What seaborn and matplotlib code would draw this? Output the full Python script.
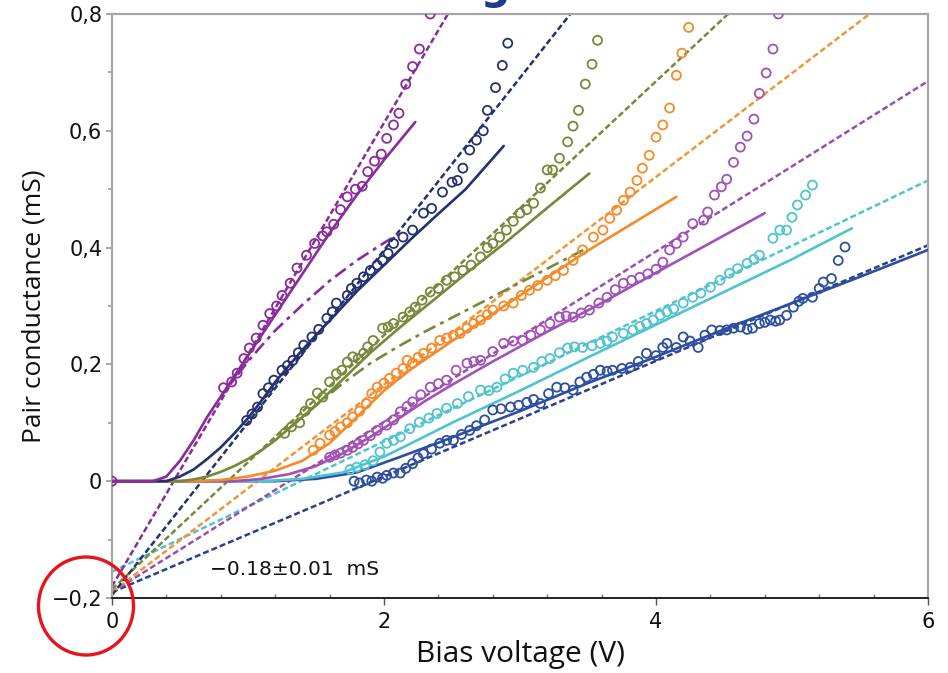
import matplotlib
matplotlib.use("Agg")
import matplotlib.pyplot as plt
from matplotlib.patches import Ellipse
from matplotlib.ticker import MultipleLocator
import pandas as pd
import seaborn as sns

# ---------------- data ----------------
x_ticks = [0, 2, 4, 6]
x_tick_labels = ["0", "2", "4", "6"]
y_ticks = [-0.2, 0.0, 0.2, 0.4, 0.6, 0.8]
y_tick_labels = ["\u22120,2", "0", "0,2", "0,4", "0,6", "0,8"]

# purple
purple_pts_v = [0.0, 0.82, 0.88, 0.92, 0.97, 1.01, 1.06, 1.11, 1.16, 1.21, 1.25, 1.31, 1.36, 1.43,
                1.49, 1.55, 1.58, 1.63, 1.68, 1.73, 1.79, 1.84, 1.88, 1.93, 1.98, 2.02, 2.07,
                2.11, 2.16, 2.21, 2.26, 2.34]
purple_pts_g = [0.0, 0.16, 0.17, 0.185, 0.21, 0.228, 0.245, 0.267, 0.287, 0.30, 0.318, 0.339, 0.365,
                0.387, 0.407, 0.42, 0.427, 0.44, 0.465, 0.487, 0.50, 0.505, 0.53, 0.548, 0.56,
                0.587, 0.61, 0.63, 0.68, 0.71, 0.74, 0.80]
purple_fit_v = [0.0, 0.3, 0.4, 0.5, 0.6, 0.7, 0.8, 0.9, 1.0, 1.2, 1.4, 1.6, 1.8, 2.0, 2.23]
purple_fit_g = [0.0, 0.0, 0.008, 0.035, 0.07, 0.11, 0.145, 0.18, 0.215, 0.285, 0.355, 0.425,
                0.49, 0.55, 0.615]
purple_alt_v = [0.8, 0.9, 1.0, 1.1, 1.2, 1.4, 1.6, 1.8, 2.0, 2.12]
purple_alt_g = [0.145, 0.175, 0.205, 0.232, 0.258, 0.302, 0.343, 0.378, 0.408, 0.425]
purple_lin_v = [0.0, 2.47]
purple_lin_g = [-0.18, 0.80]

# navy
navy_pts_v = [0.99, 1.03, 1.07, 1.11, 1.15, 1.19, 1.25, 1.29, 1.33, 1.37, 1.41, 1.47, 1.52, 1.58,
              1.62, 1.65, 1.73, 1.76, 1.80, 1.85, 1.90, 1.95, 1.99, 2.03, 2.07, 2.14, 2.21,
              2.29, 2.35, 2.43, 2.50, 2.54, 2.58, 2.63, 2.68, 2.73, 2.76, 2.82, 2.87, 2.91, 2.97]
navy_pts_g = [0.104, 0.115, 0.127, 0.15, 0.16, 0.173, 0.19, 0.198, 0.207, 0.22, 0.233, 0.247, 0.26,
              0.279, 0.29, 0.305, 0.318, 0.33, 0.339, 0.35, 0.361, 0.37, 0.378, 0.39, 0.407,
              0.418, 0.43, 0.459, 0.467, 0.495, 0.512, 0.515, 0.536, 0.567, 0.584, 0.60, 0.635,
              0.674, 0.712, 0.75, 0.812]
navy_fit_v = [0.0, 0.4, 0.5, 0.6, 0.7, 0.8, 0.9, 1.0, 1.1, 1.2, 1.4, 1.6, 1.8, 2.0, 2.2, 2.4, 2.6, 2.88]
navy_fit_g = [0.0, 0.0, 0.008, 0.02, 0.038, 0.058, 0.082, 0.108, 0.138, 0.17, 0.225, 0.275, 0.325,
              0.37, 0.415, 0.458, 0.50, 0.574]
navy_lin_v = [0.0, 3.37]
navy_lin_g = [-0.195, 0.80]

# olive
olive_pts_v = [1.27, 1.32, 1.38, 1.42, 1.46, 1.51, 1.55, 1.60, 1.65, 1.69, 1.73, 1.77, 1.81, 1.85,
               1.88, 1.92, 1.99, 2.03, 2.07, 2.14, 2.19, 2.23, 2.28, 2.34, 2.40, 2.46, 2.52, 2.58,
               2.64, 2.71, 2.76, 2.80, 2.85, 2.90, 2.95, 3.00, 3.05, 3.10, 3.15, 3.20, 3.24, 3.29,
               3.35, 3.39, 3.43, 3.48, 3.53, 3.57]
olive_pts_g = [0.082, 0.093, 0.10, 0.12, 0.133, 0.151, 0.144, 0.17, 0.184, 0.19, 0.204, 0.213, 0.21,
               0.219, 0.23, 0.241, 0.262, 0.264, 0.27, 0.281, 0.29, 0.298, 0.31, 0.324, 0.33,
               0.344, 0.35, 0.361, 0.37, 0.384, 0.40, 0.407, 0.418, 0.43, 0.445, 0.459, 0.465,
               0.476, 0.502, 0.533, 0.533, 0.553, 0.581, 0.608, 0.635, 0.68, 0.714, 0.755]
olive_fit_v = [0.0, 0.5, 0.6, 0.7, 0.8, 0.9, 1.0, 1.1, 1.2, 1.3, 1.4, 1.5, 1.7, 1.9, 2.1, 2.3, 2.6,
               2.9, 3.2, 3.51]
olive_fit_g = [0.0, 0.0, 0.003, 0.008, 0.016, 0.026, 0.038, 0.053, 0.07, 0.09, 0.11, 0.13, 0.175,
               0.22, 0.26, 0.298, 0.355, 0.41, 0.468, 0.527]
olive_alt_v = [1.3, 1.5, 1.7, 1.9, 2.1, 2.3, 2.5, 2.8, 3.1, 3.5]
olive_alt_g = [0.09, 0.13, 0.168, 0.202, 0.23, 0.256, 0.28, 0.316, 0.352, 0.40]
olive_lin_v = [0.0, 4.53]
olive_lin_g = [-0.185, 0.80]

# orange
orange_pts_v = [1.48, 1.53, 1.60, 1.64, 1.68, 1.73, 1.77, 1.82, 1.87, 1.91, 1.95, 2.00, 2.04, 2.09,
                2.14, 2.17, 2.21, 2.25, 2.29, 2.35, 2.41, 2.46, 2.51, 2.56, 2.61, 2.66, 2.71, 2.76,
                2.80, 2.88, 2.95, 3.01, 3.07, 3.13, 3.20, 3.26, 3.32, 3.39, 3.46, 3.54, 3.61, 3.66,
                3.71, 3.76, 3.81, 3.86, 3.90, 3.95, 4.00, 4.05, 4.10, 4.15, 4.19, 4.24]
orange_pts_g = [0.053, 0.065, 0.079, 0.085, 0.093, 0.10, 0.11, 0.12, 0.133, 0.15, 0.161, 0.168,
                0.176, 0.185, 0.193, 0.207, 0.202, 0.212, 0.219, 0.228, 0.241, 0.245, 0.25, 0.253,
                0.262, 0.27, 0.276, 0.285, 0.293, 0.30, 0.305, 0.318, 0.327, 0.335, 0.344, 0.352,
                0.361, 0.378, 0.396, 0.418, 0.43, 0.45, 0.464, 0.481, 0.495, 0.515, 0.536, 0.558,
                0.589, 0.61, 0.639, 0.695, 0.733, 0.777]
orange_fit_v = [0.0, 0.6, 0.8, 1.0, 1.2, 1.4, 1.6, 1.8, 2.0, 2.2, 2.5, 3.0, 3.5, 4.15]
orange_fit_g = [0.0, 0.0, 0.002, 0.008, 0.018, 0.035, 0.065, 0.11, 0.155, 0.192, 0.24, 0.318,
                0.395, 0.487]
orange_lin_v = [0.0, 5.57]
orange_lin_g = [-0.19, 0.80]

# violet
violet_pts_v = [1.60, 1.64, 1.68, 1.73, 1.77, 1.81, 1.85, 1.90, 1.95, 2.02, 2.07, 2.12, 2.17, 2.21,
                2.27, 2.34, 2.40, 2.46, 2.53, 2.61, 2.66, 2.71, 2.80, 2.88, 2.95, 3.02, 3.08, 3.15,
                3.22, 3.29, 3.34, 3.39, 3.45, 3.51, 3.58, 3.64, 3.70, 3.76, 3.82, 3.88, 3.94, 4.00,
                4.05, 4.10, 4.15, 4.20, 4.27, 4.35, 4.38, 4.43, 4.48, 4.52, 4.57, 4.62, 4.67, 4.72,
                4.76, 4.81, 4.86, 4.90]
violet_pts_g = [0.041, 0.045, 0.048, 0.053, 0.058, 0.064, 0.07, 0.078, 0.087, 0.096, 0.105, 0.119,
                0.128, 0.136, 0.148, 0.161, 0.167, 0.173, 0.19, 0.202, 0.205, 0.207, 0.222, 0.236,
                0.24, 0.241, 0.25, 0.259, 0.27, 0.281, 0.283, 0.281, 0.288, 0.293, 0.305, 0.315,
                0.328, 0.339, 0.344, 0.349, 0.355, 0.363, 0.375, 0.396, 0.407, 0.418, 0.441, 0.447,
                0.461, 0.49, 0.504, 0.517, 0.546, 0.572, 0.591, 0.62, 0.664, 0.699, 0.74, 0.80]
violet_fit_v = [0.0, 0.9, 1.1, 1.3, 1.5, 1.7, 1.9, 2.1, 2.3, 2.5, 2.8, 3.2, 3.6, 4.0, 4.4, 4.8]
violet_fit_g = [0.0, 0.0, 0.004, 0.012, 0.026, 0.048, 0.076, 0.106, 0.137, 0.165, 0.205, 0.256,
                0.305, 0.357, 0.408, 0.459]
violet_lin_v = [0.0, 6.0]
violet_lin_g = [-0.19, 0.685]

# cyan
cyan_pts_v = [1.75, 1.80, 1.86, 1.92, 1.97, 2.02, 2.07, 2.12, 2.19, 2.26, 2.33, 2.39, 2.46, 2.54,
              2.62, 2.71, 2.77, 2.83, 2.89, 2.95, 3.02, 3.10, 3.16, 3.22, 3.29, 3.35, 3.40, 3.46,
              3.53, 3.59, 3.64, 3.68, 3.76, 3.83, 3.88, 3.93, 3.98, 4.03, 4.08, 4.13, 4.20, 4.27,
              4.33, 4.40, 4.47, 4.54, 4.60, 4.67, 4.72, 4.76, 4.86, 4.91, 4.96, 5.00, 5.04, 5.10,
              5.15]
cyan_pts_g = [0.02, 0.024, 0.028, 0.035, 0.05, 0.065, 0.07, 0.076, 0.09, 0.101, 0.108, 0.116, 0.125,
              0.133, 0.145, 0.156, 0.155, 0.161, 0.175, 0.185, 0.19, 0.195, 0.205, 0.21, 0.22,
              0.228, 0.23, 0.229, 0.232, 0.236, 0.24, 0.247, 0.253, 0.259, 0.265, 0.27, 0.276,
              0.284, 0.29, 0.295, 0.305, 0.315, 0.322, 0.332, 0.344, 0.356, 0.364, 0.373, 0.38,
              0.387, 0.416, 0.43, 0.43, 0.452, 0.473, 0.49, 0.507]
cyan_fit_v = [0.0, 1.1, 1.4, 1.7, 2.0, 2.2, 2.5, 3.0, 3.5, 4.0, 4.5, 5.0, 5.44]
cyan_fit_g = [0.0, 0.0, 0.004, 0.015, 0.042, 0.065, 0.10, 0.155, 0.212, 0.268, 0.324, 0.38, 0.433]
cyan_lin_v = [0.0, 6.0]
cyan_lin_g = [-0.155, 0.515]

# blue
blue_pts_v = [1.78, 1.82, 1.87, 1.91, 1.95, 1.99, 2.02, 2.07, 2.12, 2.16, 2.21, 2.25, 2.29, 2.35,
              2.41, 2.46, 2.51, 2.57, 2.63, 2.68, 2.74, 2.80, 2.86, 2.93, 2.99, 3.05, 3.10, 3.15,
              3.21, 3.27, 3.33, 3.39, 3.44, 3.49, 3.54, 3.59, 3.64, 3.68, 3.75, 3.81, 3.87, 3.93,
              4.00, 4.05, 4.08, 4.15, 4.20, 4.25, 4.31, 4.36, 4.41, 4.47, 4.52, 4.57, 4.62, 4.67,
              4.71, 4.76, 4.80, 4.84, 4.88, 4.91, 4.96, 5.01, 5.05, 5.08, 5.15, 5.20, 5.23, 5.29,
              5.34, 5.39]
blue_pts_g = [0.0, -0.003, 0.002, 0.0, 0.007, 0.005, 0.01, 0.014, 0.014, 0.022, 0.03, 0.04, 0.047,
              0.055, 0.065, 0.07, 0.07, 0.08, 0.087, 0.095, 0.105, 0.122, 0.124, 0.127, 0.13,
              0.135, 0.14, 0.133, 0.15, 0.161, 0.16, 0.156, 0.17, 0.178, 0.183, 0.19, 0.188, 0.19,
              0.193, 0.195, 0.205, 0.219, 0.215, 0.229, 0.236, 0.229, 0.247, 0.24, 0.229, 0.25,
              0.259, 0.258, 0.259, 0.262, 0.264, 0.26, 0.262, 0.27, 0.272, 0.276, 0.274, 0.276,
              0.284, 0.298, 0.308, 0.313, 0.315, 0.33, 0.341, 0.347, 0.378, 0.401]
blue_fit_v = [0.0, 1.2, 1.5, 1.8, 2.1, 2.4, 2.7, 3.0, 3.5, 4.0, 4.5, 5.0, 5.5, 6.0]
blue_fit_g = [0.0, 0.0, 0.004, 0.015, 0.04, 0.066, 0.093, 0.12, 0.168, 0.213, 0.26, 0.305, 0.35,
              0.396]
blue_lin_v = [0.0, 6.0]
blue_lin_g = [-0.19, 0.404]

offset_label = "\u22120.18\u00b10.01  mS"

# ---------------- styling ----------------
series = [
    dict(c="#8a2b9c", lc="#8a2b9c", pv=purple_pts_v, pg=purple_pts_g, fv=purple_fit_v, fg=purple_fit_g,
         lv=purple_lin_v, lg=purple_lin_g, av=purple_alt_v, ag=purple_alt_g),
    dict(c="#24306f", lc="#24306f", pv=navy_pts_v, pg=navy_pts_g, fv=navy_fit_v, fg=navy_fit_g,
         lv=navy_lin_v, lg=navy_lin_g),
    dict(c="#76893a", lc="#76893a", pv=olive_pts_v, pg=olive_pts_g, fv=olive_fit_v, fg=olive_fit_g,
         lv=olive_lin_v, lg=olive_lin_g, av=olive_alt_v, ag=olive_alt_g),
    dict(c="#f58a2a", lc="#f0963a", pv=orange_pts_v, pg=orange_pts_g, fv=orange_fit_v, fg=orange_fit_g,
         lv=orange_lin_v, lg=orange_lin_g),
    dict(c="#a252b6", lc="#9a4fae", pv=violet_pts_v, pg=violet_pts_g, fv=violet_fit_v, fg=violet_fit_g,
         lv=violet_lin_v, lg=violet_lin_g),
    dict(c="#4fc3cf", lc="#4fc3cf", pv=cyan_pts_v, pg=cyan_pts_g, fv=cyan_fit_v, fg=cyan_fit_g,
         lv=cyan_lin_v, lg=cyan_lin_g),
    dict(c="#2c4f9f", lc="#2a3f8f", pv=blue_pts_v, pg=blue_pts_g, fv=blue_fit_v, fg=blue_fit_g,
         lv=blue_lin_v, lg=blue_lin_g),
]

sns.set_style("white")
plt.rcParams["font.family"] = ["DejaVu Sans"]

fig = plt.figure(figsize=(9.48, 6.73), dpi=100)
ax = fig.add_axes([112 / 948, 1 - 598 / 673, (928 - 112) / 948, (598 - 14) / 673])

dash = (0, (2.4, 1.2))
dashdot = (0, (5.0, 2.0, 1.5, 2.0))

for s in reversed(series):
    sns.lineplot(x=s["lv"], y=s["lg"], ax=ax, color=s["lc"], linewidth=1.8,
                 linestyle=dash, estimator=None, sort=False, zorder=2)
for s in reversed(series):
    sns.lineplot(x=s["fv"], y=s["fg"], ax=ax, color=s["c"], linewidth=1.9,
                 estimator=None, sort=False, zorder=3)
    if "av" in s:
        sns.lineplot(x=s["av"], y=s["ag"], ax=ax, color=s["c"], linewidth=1.9,
                     linestyle=dashdot, estimator=None, sort=False, zorder=3)
for s in reversed(series):
    df = pd.DataFrame({"V": s["pv"], "G": s["pg"]})
    sns.scatterplot(data=df, x="V", y="G", ax=ax, color=s["c"], facecolor="none",
                    edgecolor=s["c"], linewidth=1.3, s=42, marker="o", zorder=4)

ax.set_xlim(0, 6)
ax.set_ylim(-0.2, 0.8)
ax.set_xticks(x_ticks)
ax.set_xticklabels(x_tick_labels)
ax.set_yticks(y_ticks)
ax.set_yticklabels(y_tick_labels)
ax.xaxis.set_minor_locator(MultipleLocator(0.4))
ax.yaxis.set_minor_locator(MultipleLocator(0.1))

ax.tick_params(axis="both", which="major", labelsize=15, colors="#111111")
ax.tick_params(axis="y", which="both", direction="out", left=True, color="#999999",
               length=4, width=1.2, pad=3)
ax.tick_params(axis="y", which="minor", length=3)
ax.tick_params(axis="x", which="major", direction="out", bottom=True, color="#555555",
               length=5, width=1.0, pad=5)
ax.tick_params(axis="x", which="minor", direction="in", bottom=True, color="#777777",
               length=3, width=1.0)

for side in ("left", "top", "right"):
    ax.spines[side].set_color("#a6a6a6")
    ax.spines[side].set_linewidth(1.6)
ax.spines["bottom"].set_color("#111111")
ax.spines["bottom"].set_linewidth(1.3)

label_font = ["Liberation Sans Narrow", "Open Sans"]
ax.set_xlabel("Bias voltage (V)", fontsize=21.5, family=label_font, color="#111111", labelpad=6)
ax.set_ylabel("Pair conductance (mS)", fontsize=19, family=label_font, color="#111111", labelpad=4)

ax.text(0.72, -0.152, offset_label, fontsize=14.5, ha="left", va="center", color="#111111")

# heading sits above the figure edge, only its lower part shows
fig.text(0.567, 1 + 1.5 / 673, "Voltage offsets", fontsize=30, fontweight="bold",
         color="#1f3a8a", ha="center", va="baseline")

fig.add_artist(Ellipse((86 / 948, 1 - 606 / 673), 95 / 948, 98 / 673,
                       transform=fig.transFigure, fill=False, edgecolor="#e8141b",
                       linewidth=2.4, zorder=10, clip_on=False))

fig.savefig("out.png", dpi=100)
